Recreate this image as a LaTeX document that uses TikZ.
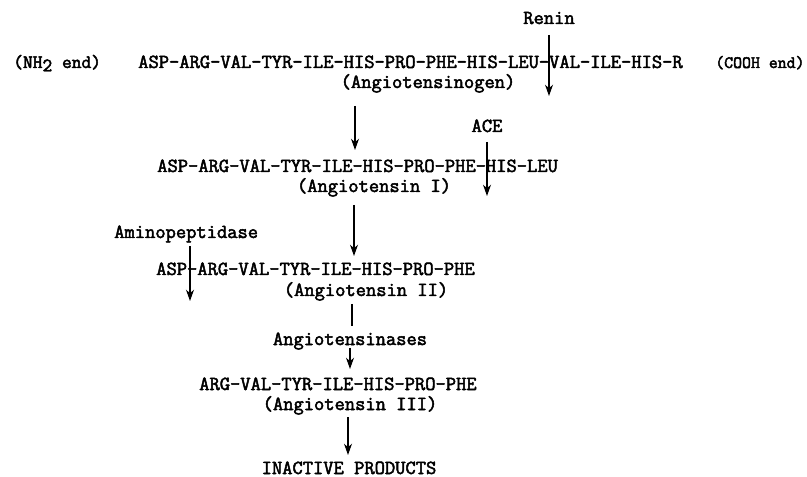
\documentclass[tikz,border=0pt]{standalone}
\usepackage{fontspec}
\newfontfamily\tw[FakeBold=2.5]{Latin Modern Mono}
\usetikzlibrary{arrows.meta}
\begin{document}
\begin{tikzpicture}[x=0.75pt,y=-0.75pt,
  lab/.style={font=\tw\fontsize{14.96pt}{17pt}\selectfont, inner sep=0pt, anchor=base west},
  ctr/.style={lab, anchor=base},
  arr/.style={line width=1.1pt, -{Stealth[length=8.5pt,width=6pt]}},
  bar/.style={line width=1.1pt}]
\useasboundingbox (0,0) rectangle (807,477);

% enzyme labels
\node[ctr] (renin) at (549,24) {Renin};
\node[ctr] (ace) at (487,132) {ACE};
\node[lab] (amino) at (114,238) {Aminopeptidase};
\node[ctr] (ases) at (350,345) {Angiotensinases};

% peptide chains and their names
\node[lab, font=\tw\fontsize{14.2pt}{16pt}\selectfont] (nh2) at (13,68) {(NH\raisebox{-0.4ex}{2} end)};
\node[lab] (pep0) at (138,68) {ASP-ARG-VAL-TYR-ILE-HIS-PRO-PHE-HIS-LEU-VAL-ILE-HIS-R};
\node[lab, font=\tw\fontsize{13pt}{15pt}\selectfont] (cooh) at (715,68) {(COOH end)};
\node[ctr] (agen) at (428,88) {(Angiotensinogen)};

\node[lab] (pep1) at (157,172) {ASP-ARG-VAL-TYR-ILE-HIS-PRO-PHE-HIS-LEU};
\node[ctr] (ang1) at (374,192) {(Angiotensin I)};

\node[lab] (pep2) at (156,275) {ASP-ARG-VAL-TYR-ILE-HIS-PRO-PHE};
\node[ctr] (ang2) at (366,296) {(Angiotensin II)};

\node[lab] (pep3) at (199,390) {ARG-VAL-TYR-ILE-HIS-PRO-PHE};
\node[ctr] (ang3) at (350,410) {(Angiotensin III)};

\node[ctr] (inact) at (349,474) {INACTIVE PRODUCTS};

% arrow end points
\coordinate (r1) at (549,35);   \coordinate (r2) at (549,96);
\coordinate (m1) at (355,106);  \coordinate (m2) at (355,150);
\coordinate (c1) at (487,142);  \coordinate (c2) at (487,196);
\coordinate (m3) at (354,205);  \coordinate (m4) at (354,256);
\coordinate (p1) at (190,246);  \coordinate (p2) at (190,301);
\coordinate (t1) at (352,304);  \coordinate (t2) at (352,326);
\coordinate (m5) at (350,348);  \coordinate (m6) at (350,369);
\coordinate (m7) at (348,417);  \coordinate (m8) at (348,455);

% cleavage and conversion arrows
\draw[arr] (r1) -- (r2);
\draw[arr] (m1) -- (m2);
\draw[arr] (c1) -- (c2);
\draw[arr] (m3) -- (m4);
\draw[arr] (p1) -- (p2);
\draw[bar] (t1) -- (t2);
\draw[arr] (m5) -- (m6);
\draw[arr] (m7) -- (m8);
\end{tikzpicture}
\end{document}
